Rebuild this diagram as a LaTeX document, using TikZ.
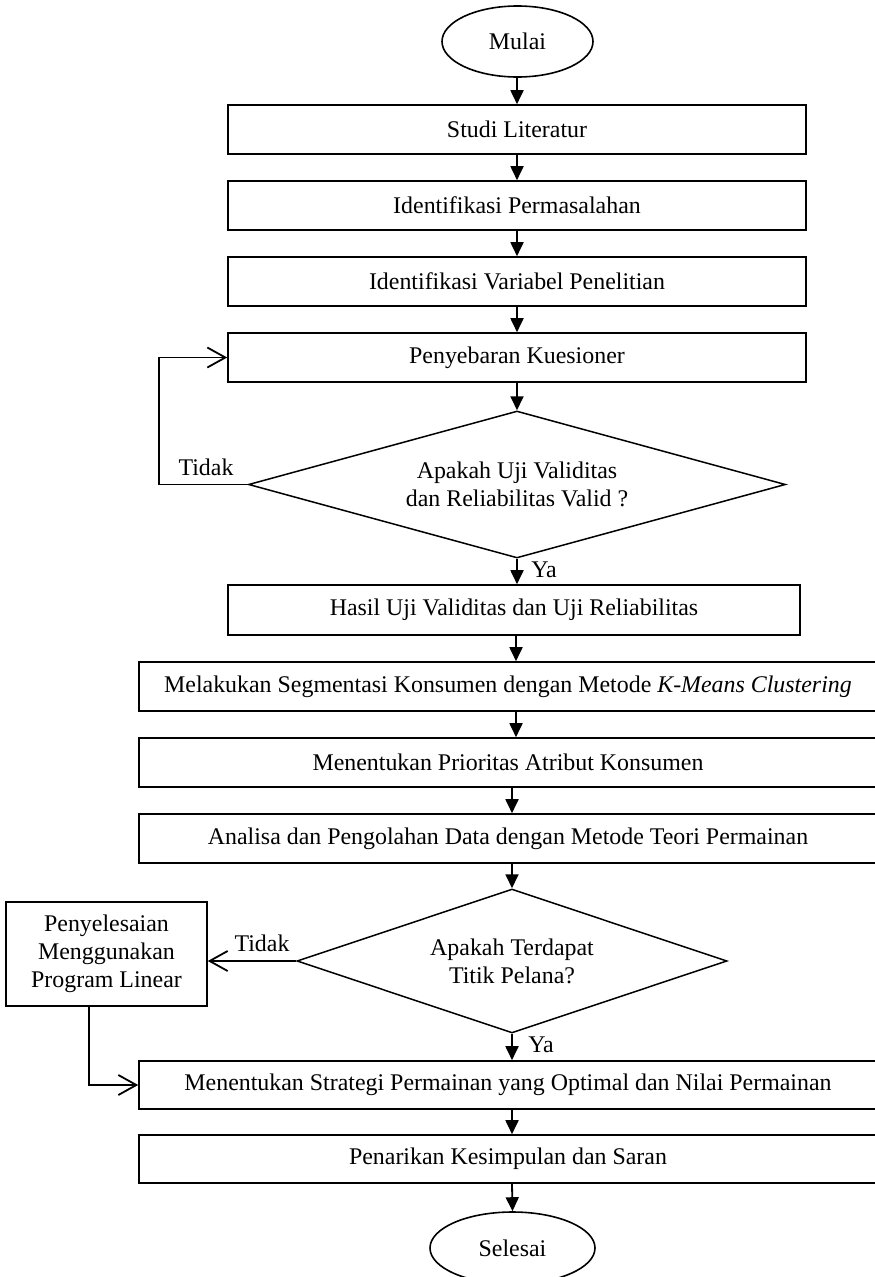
\documentclass[tikz,border=0pt]{standalone}
\usepackage{fontspec}
\setmainfont{Liberation Serif}
\usetikzlibrary{shapes.geometric,arrows.meta}
\newcommand{\figfont}{\fontsize{23.9}{28}\selectfont}
\tikzset{
  every node/.style={font=\figfont},
  box/.style={draw, line width=1.6pt, inner sep=0pt, minimum height=49pt, align=center},
  ellip/.style={draw, ellipse, line width=1.6pt, inner sep=0pt},
  decision/.style={draw, diamond, line width=1.5pt, inner sep=0pt, align=center},
  lbl/.style={inner sep=0pt},
  arr/.style={line width=1.8pt, -{Triangle[length=14pt,width=13pt]}},
  openarr/.style={line width=1.6pt, -{Straight Barb[length=18pt,width=20pt,line width=1.8pt]}}
}
\begin{document}
\begin{tikzpicture}[x=1pt,y=-1pt]
\clip (0,0) rectangle (875,1277);
\fill[white] (0,0) rectangle (875,1277);

\coordinate (cu) at (517,0);
\coordinate (cm) at (516,0);
\coordinate (cl) at (512,0);
\coordinate (loopc) at (159,0);
\coordinate (plx) at (89,0);

\node[ellip, minimum width=151pt, minimum height=71pt] (mulai) at (517.5,41.5) {Mulai};
\node[box, minimum width=578pt] (studi) at (517,129.5) {Studi Literatur};
\node[box, minimum width=578pt] (idperm) at (517,205.5) {Identifikasi Permasalahan};
\node[box, minimum width=578pt] (idvar) at (517,281.5) {Identifikasi Variabel Penelitian};
\node[box, minimum width=578pt] (sebar) at (517,357.5) {Penyebaran Kuesioner};
\node[decision, aspect=3.653, minimum width=537pt, minimum height=147pt] (d1) at (517,484.5) {Apakah Uji Validitas\\dan Reliabilitas Valid ?};
\node[box, minimum width=572pt, minimum height=50pt] (hasil) at (514,610) {Hasil Uji Validitas dan Uji Reliabilitas};
\node[box, minimum width=738pt] (kmeans) at (508,686.5) {Melakukan Segmentasi Konsumen dengan Metode \textit{K-Means Clustering}};
\node[box, minimum width=738pt] (prior) at (508,762.5) {Menentukan Prioritas Atribut Konsumen};
\node[box, minimum width=738pt] (analisa) at (508,838.5) {Analisa dan Pengolahan Data dengan Metode Teori Permainan};
\node[decision, aspect=2.986, minimum width=430pt, minimum height=144pt] (d2) at (512,961) {Apakah Terdapat\\Titik Pelana?};
\node[box, minimum width=201pt, minimum height=104pt] (pl) at (106.5,954) {Penyelesaian\\Menggunakan\\Program Linear};
\node[box, minimum width=738pt, minimum height=48pt] (strat) at (508,1085) {Menentukan Strategi Permainan yang Optimal dan Nilai Permainan};
\node[box, minimum width=738pt, minimum height=48pt] (tarik) at (508,1159) {Penarikan Kesimpulan dan Saran};
\node[ellip, minimum width=165pt, minimum height=72pt] (selesai) at (512.5,1248) {Selesai};

\node[lbl] (t1) at (206,467) {Tidak};
\node[lbl] (y1) at (544,570) {Ya};
\node[lbl] (t2) at (262,943) {Tidak};
\node[lbl] (y2) at (541,1045) {Ya};

\draw[arr] (mulai.south -| cu) -- (studi.north -| cu);
\draw[arr] (studi.south -| cu) -- (idperm.north -| cu);
\draw[arr] (idperm.south -| cu) -- (idvar.north -| cu);
\draw[arr] (idvar.south -| cu) -- (sebar.north -| cu);
\draw[arr] (sebar.south -| cu) -- (d1.north);
\draw[arr] (d1.south) -- (hasil.north -| cu);
\draw[arr] (hasil.south -| cm) -- (kmeans.north -| cm);
\draw[arr] (kmeans.south -| cm) -- (prior.north -| cm);
\draw[arr] (prior.south -| cl) -- (analisa.north -| cl);
\draw[arr] (analisa.south -| cl) -- (d2.north);
\draw[arr] (d2.south) -- (strat.north -| cl);
\draw[arr] (strat.south -| cl) -- (tarik.north -| cl);
\draw[arr] (tarik.south -| cl) -- (selesai.north);

\draw[openarr] (d1.west) -- (d1.west -| loopc) |- (sebar.west);
\draw[openarr] (d2.west) -- (d2.west -| pl.east);
\draw[openarr] (pl.south -| plx) |- (strat.west);
\end{tikzpicture}
\end{document}
